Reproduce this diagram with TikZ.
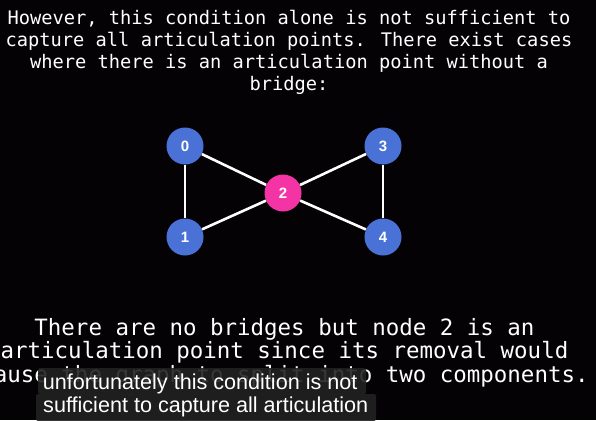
\documentclass[tikz,border=0pt]{standalone}
\usepackage{fontspec}
\setmainfont{Liberation Sans}
\newfontfamily\monofont{DejaVu Sans Mono}
\newfontfamily\subfont{Liberation Sans}
\definecolor{bgc}{HTML}{050205}
\definecolor{nodeblue}{HTML}{4A72D6}
\definecolor{nodepink}{HTML}{F434A5}
\definecolor{subbg}{HTML}{222222}
\tikzset{
  toptext/.style={anchor=base, text=white, inner sep=0pt, font=\monofont\fontsize{18.7}{20}\selectfont},
  bottext/.style={anchor=base, text=white, inner sep=0pt, font=\monofont\fontsize{22.45}{24}\selectfont},
  subtext/.style={anchor=base west, text=white, inner sep=0pt, font=\subfont\fontsize{21.6}{23}\selectfont},
  vertex/.style={circle, minimum size=37pt, inner sep=0pt, text=white, font=\bfseries\fontsize{15}{16}\selectfont},
  bluev/.style={vertex, fill=nodeblue},
  pinkv/.style={vertex, fill=nodepink},
  edge/.style={draw=white, line width=2.6pt},
  subbox/.style={fill=subbg, fill opacity=0.9, rounded corners=2pt}
}
\begin{document}
\begin{tikzpicture}[x=1pt, y=-1pt]
\useasboundingbox (0,0) rectangle (596,420);
\fill[bgc] (0,0) rectangle (596,420);
% top text
\node[toptext] (t1) at (289,25) {However, this condition alone is not sufficient to};
\node[toptext] (t2) at (289,46.7) {capture all articulation points. There exist cases};
\node[toptext] (t3) at (289,68.3) {where there is an articulation point without a};
\node[toptext] (t4) at (289,90) {bridge:};
% graph
\node[bluev] (n0) at (185,146) {0};
\node[bluev] (n1) at (185,237) {1};
\node[pinkv] (n2) at (283,193) {2};
\node[bluev] (n3) at (383,146) {3};
\node[bluev] (n4) at (383,237) {4};
\draw[edge] (n0) -- (n1);
\draw[edge] (n0) -- (n2);
\draw[edge] (n1) -- (n2);
\draw[edge] (n2) -- (n3);
\draw[edge] (n2) -- (n4);
\draw[edge] (n3) -- (n4);
% bottom text
\node[bottext] (b1) at (284.5,335) {There are no bridges but node 2 is an};
\node[bottext] (b2) at (284.5,358.5) {articulation point since its removal would};
\node[bottext] (b3) at (284.5,382) {cause the graph to split into two components.};
% subtitles
\fill[subbox] (38,368) rectangle (366,394);
\fill[subbox] (36,394) rectangle (376,421);
\node[subtext] (s1) at (42.7,389) {unfortunately this condition is not};
\node[subtext] (s2) at (43,412) {sufficient to capture all articulation};
\end{tikzpicture}
\end{document}
